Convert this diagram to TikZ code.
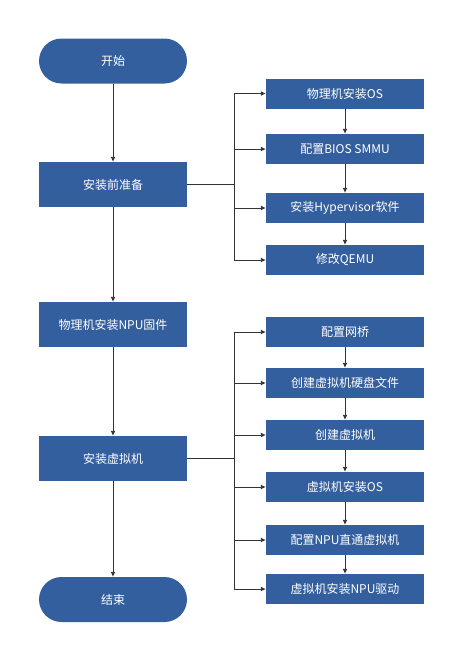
\documentclass[tikz,border=0pt]{standalone}
\usepackage{fontspec}
\setmainfont{Noto Sans CJK SC}
\usepackage{tikz}
\definecolor{flowBlue}{HTML}{345F9E}
\definecolor{flowLine}{HTML}{333333}
\usetikzlibrary{arrows.meta}

\begin{document}
\begin{tikzpicture}[x=1pt,y=-1pt, every node/.style={font=\fontsize{12}{14}\selectfont, text=white},
  mainbox/.style={fill=flowBlue, minimum width=148pt, minimum height=45pt, inner sep=0pt},
  endbox/.style={mainbox, rounded corners=22.5pt},
  subbox/.style={fill=flowBlue, minimum width=158pt, minimum height=30pt, inner sep=0pt},
  link/.style={draw=flowLine, line width=0.9pt},
  flow/.style={link, -{Latex[length=5pt,width=5pt]}}]
  \useasboundingbox (0,0) rectangle (462,659);
  % main column
  \node[endbox] (start) at (113,61) {开始};
  \node[mainbox] (prep) at (113,184.5) {安装前准备};
  \node[mainbox] (firmware) at (113,324.5) {物理机安装NPU固件};
  \node[mainbox] (vm) at (113,458.5) {安装虚拟机};
  \node[endbox] (stop) at (113,599.5) {结束};
  \draw[flow] (start) -- (prep);
  \draw[flow] (prep) -- (firmware);
  \draw[flow] (firmware) -- (vm);
  \draw[flow] (vm) -- (stop);
  % preparation steps
  \foreach \name/\y/\label in {p1/93.5/物理机安装OS, p2/149/配置BIOS SMMU, p3/208/安装Hypervisor软件, p4/260/修改QEMU} {
    \node[subbox] (\name) at (345,\y) {\label};
  }
  \draw[flow] (p1) -- (p2);
  \draw[flow] (p2) -- (p3);
  \draw[flow] (p3) -- (p4);
  \coordinate (forkA) at (234,184.5);
  \draw[link] (prep.east) -- (forkA);
  \foreach \name in {p1,p2,p3,p4} {
    \draw[flow] (forkA) |- (\name.west);
  }
  % virtual machine steps
  \foreach \name/\y/\label in {v1/332/配置网桥, v2/383/创建虚拟机硬盘文件, v3/435/创建虚拟机, v4/487/虚拟机安装OS, v5/540/配置NPU直通虚拟机, v6/589/虚拟机安装NPU驱动} {
    \node[subbox] (\name) at (345,\y) {\label};
  }
  \draw[flow] (v1) -- (v2);
  \draw[flow] (v2) -- (v3);
  \draw[flow] (v3) -- (v4);
  \draw[flow] (v4) -- (v5);
  \draw[flow] (v5) -- (v6);
  \coordinate (forkB) at (234,458.5);
  \draw[link] (vm.east) -- (forkB);
  \foreach \name in {v1,v2,v3,v4,v5,v6} {
    \draw[flow] (forkB) |- (\name.west);
  }
\end{tikzpicture}
\end{document}
